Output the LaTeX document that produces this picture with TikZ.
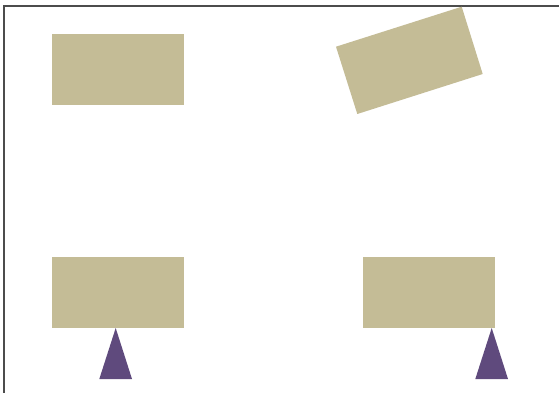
\documentclass[tikz,border=0pt]{standalone}
\begin{document}
\begin{tikzpicture}[x=1pt, y=-1pt, line cap=butt, line join=miter]
  \definecolor{beamtan}{HTML}{C4BC96}
  \definecolor{pivotpurple}{HTML}{5F4A7D}
  \useasboundingbox (0,0) rectangle (559,393);
  \fill[white] (0,0) rectangle (559,393);
  \draw[black!70, line width=1.2pt] (4,393)--(4,6)--(559,6);
  % beams
  \fill[beamtan] (52,34) rectangle (184,105);
  \fill[beamtan] (336,46.7)--(461.7,6.7)--(482.7,74)--(357.3,114)--cycle;
  \fill[beamtan] (52,257) rectangle (184,328);
  \fill[beamtan] (363,257) rectangle (495,328);
  % pivots
  \fill[pivotpurple] (115.7,328)--(132,379)--(99.3,379)--cycle;
  \fill[pivotpurple] (491.7,328)--(508,379)--(475.3,379)--cycle;
\end{tikzpicture}
\end{document}
